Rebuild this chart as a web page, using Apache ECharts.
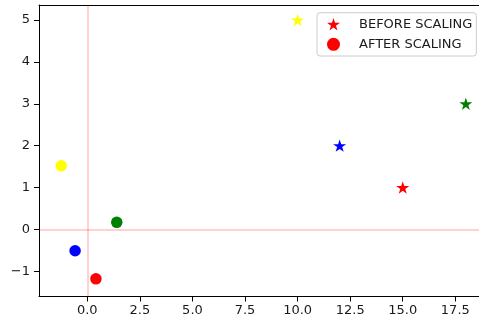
<!DOCTYPE html>
<html><head><meta charset="utf-8">
<script src="https://cdn.jsdelivr.net/npm/echarts@6/dist/echarts.min.js"></script>
<style>html,body{margin:0;padding:0;background:#fff}#c{width:479px;height:323px}</style>
</head><body><div id="c"></div>
<script>
const pointColors = ['yellow', 'blue', 'red', 'green'];
const beforeX = [10, 12, 15, 18];
const beforeY = [5, 2, 1, 3];
const afterX = [-1.24, -0.58, 0.41, 1.40];
const afterY = [1.52, -0.51, -1.18, 0.17];
const xTicks = [0, 2.5, 5, 7.5, 10, 12.5, 15, 17.5];
const yTicks = [-1, 0, 1, 2, 3, 4, 5];
const refX = [0];
const refY = [0];
const seriesNames = ['BEFORE SCALING', 'AFTER SCALING'];

const FONT = 'DejaVu Sans';
const STAR = 'path://M50,0 L61.2,34.5 L97.6,34.5 L68.2,55.9 L79.4,90.5 L50,69.1 L20.6,90.5 L31.8,55.9 L2.4,34.5 L38.8,34.5 Z';
const XMIN = -2.297, XMAX = 18.626;

function pts(xs, ys) {
  return xs.map((x, i) => ({ value: [x, ys[i]], itemStyle: { color: pointColors[i] } }));
}

const chart = echarts.init(document.getElementById('c'), null, { renderer: 'canvas' });
const lineStyle = { color: '#000', width: 1 };
chart.setOption({
  animation: false,
  backgroundColor: '#fff',
  grid: { left: 39, top: 5, right: 0, height: 291.5, show: false },
  xAxis: [{
    type: 'value', min: XMIN, max: XMAX, position: 'bottom',
    splitLine: { show: false },
    axisLine: { show: true, onZero: false, lineStyle: lineStyle },
    axisTick: { show: true, length: 5, lineStyle: lineStyle, customValues: xTicks },
    axisLabel: { customValues: xTicks, color: '#1a1a1a', fontSize: 13, fontFamily: FONT, margin: 8,
      formatter: v => v.toFixed(1) }
  }, {
    type: 'value', min: XMIN, max: XMAX, position: 'top',
    splitLine: { show: false },
    axisLine: { show: true, onZero: false, lineStyle: lineStyle },
    axisTick: { show: false }, axisLabel: { show: false }
  }],
  yAxis: {
    type: 'value', min: -1.601, max: 5.358,
    splitLine: { show: false },
    axisLine: { show: true, onZero: false, lineStyle: lineStyle },
    axisTick: { show: true, length: 5, lineStyle: lineStyle, customValues: yTicks },
    axisLabel: { customValues: yTicks, color: '#1a1a1a', fontSize: 13, fontFamily: FONT, margin: 9,
      formatter: v => (v < 0 ? '\u2212' + Math.abs(v) : String(v)) }
  },
  legend: {
    data: seriesNames,
    orient: 'vertical',
    left: 317, top: 12.7,
    padding: [4.6, 4, 4.7, 10],
    itemGap: 6,
    itemWidth: 13, itemHeight: 13,
    backgroundColor: 'rgba(255,255,255,0.8)',
    borderColor: '#cccccc', borderWidth: 1, borderRadius: 3,
    textStyle: { fontSize: 13, fontFamily: FONT, color: '#1a1a1a', lineHeight: 14, padding: [0, 0, 0, 14] }
  },
  series: [
    {
      name: 'ref', type: 'scatter', data: [], z: 1, silent: true,
      markLine: {
        silent: true, symbol: 'none', label: { show: false }, animation: false,
        lineStyle: { color: 'rgba(255,0,0,0.18)', width: 2, type: 'solid' },
        data: refX.map(v => ({ xAxis: v })).concat(refY.map(v => ({ yAxis: v })))
      }
    },
    {
      name: seriesNames[0], type: 'scatter', symbol: STAR, symbolKeepAspect: true, symbolSize: 13,
      itemStyle: { color: 'red', opacity: 1 }, z: 3,
      data: pts(beforeX, beforeY)
    },
    {
      name: seriesNames[1], type: 'scatter', symbol: 'circle', symbolSize: 11.5,
      itemStyle: { color: 'red', opacity: 1 }, z: 3,
      data: pts(afterX, afterY)
    }
  ]
});
</script></body></html>
